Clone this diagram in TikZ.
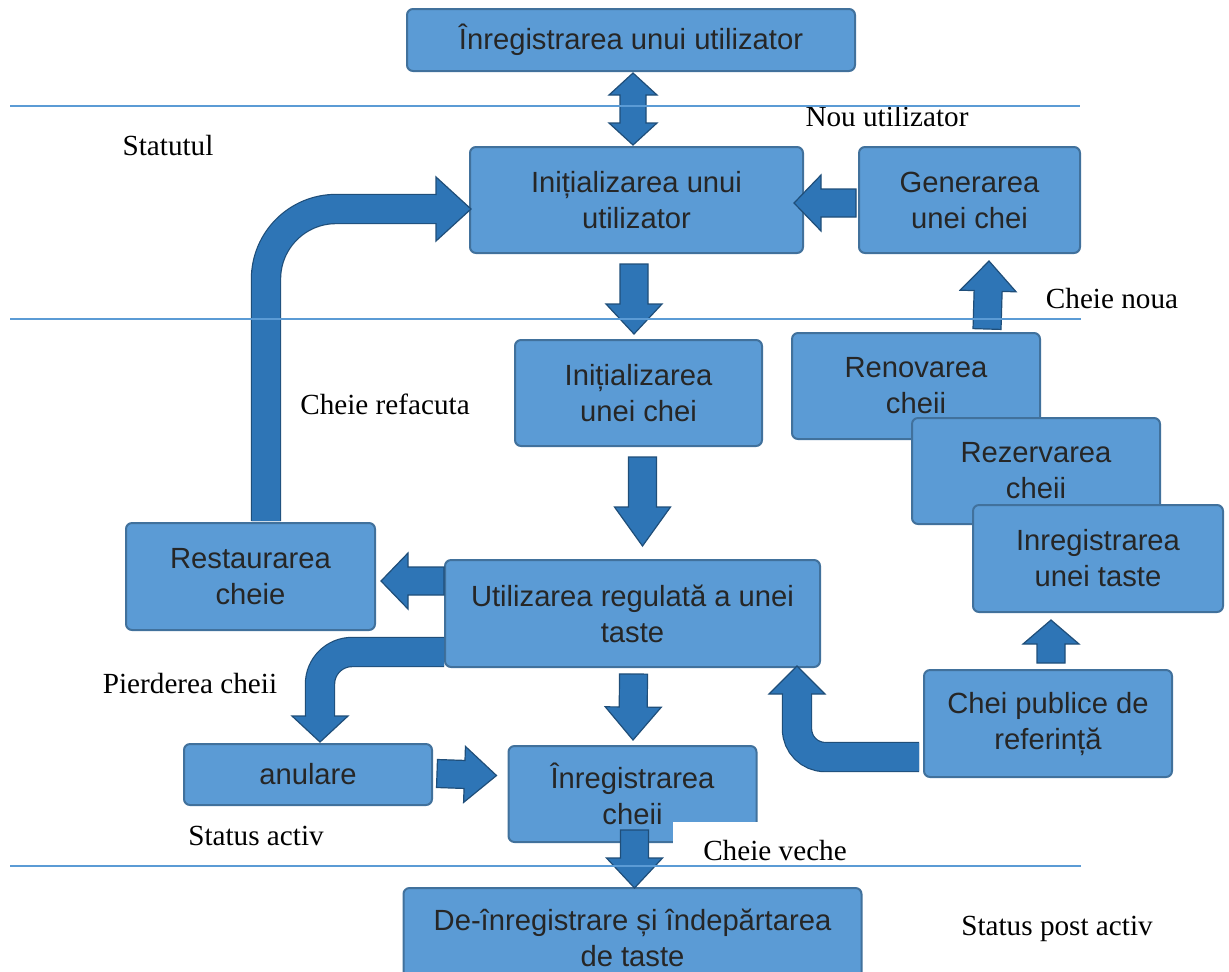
\documentclass[tikz,border=0pt]{standalone}
\usepackage{fontspec}
\setmainfont{Liberation Serif}
\setsansfont{Liberation Sans}
\usetikzlibrary{calc, positioning}

\definecolor{boxfill}{RGB}{91,155,213}
\definecolor{boxedge}{RGB}{65,113,156}
\definecolor{boxtext}{RGB}{38,38,38}
\definecolor{arrowfill}{RGB}{46,117,182}
\definecolor{arrowedge}{RGB}{31,78,121}
\definecolor{rulecolor}{RGB}{91,155,213}

\newcommand{\shaftw}{7pt}
\newcommand{\headw}{14pt}

% straight block arrow: [head length]{tail}{tip}
\newcommand{\blockarrow}[3][15pt]{%
  \coordinate (ba-tail) at (#2);
  \coordinate (ba-tip) at (#3);
  \coordinate (ba-base) at ($(ba-tip)!#1!(ba-tail)$);
  \filldraw[arrowbody] (ba-tip)
    -- ($(ba-base)!\headw!90:(ba-tip)$) -- ($(ba-base)!\shaftw!90:(ba-tip)$)
    -- ($(ba-tail)!\shaftw!90:(ba-tip)$) -- ($(ba-tail)!\shaftw!-90:(ba-tip)$)
    -- ($(ba-base)!\shaftw!-90:(ba-tip)$) -- ($(ba-base)!\headw!-90:(ba-tip)$) -- cycle;}

% block arrow with a head at both ends
\newcommand{\doubleblockarrow}[3][11pt]{%
  \coordinate (da-a) at (#2);
  \coordinate (da-b) at (#3);
  \coordinate (da-ba) at ($(da-a)!#1!(da-b)$);
  \coordinate (da-bb) at ($(da-b)!#1!(da-a)$);
  \filldraw[arrowbody] (da-a)
    -- ($(da-ba)!\headw!90:(da-a)$) -- ($(da-ba)!\shaftw!90:(da-a)$)
    -- ($(da-bb)!\shaftw!-90:(da-b)$) -- ($(da-bb)!\headw!-90:(da-b)$)
    -- (da-b)
    -- ($(da-bb)!\headw!90:(da-b)$) -- ($(da-bb)!\shaftw!90:(da-b)$)
    -- ($(da-ba)!\shaftw!-90:(da-a)$) -- ($(da-ba)!\headw!-90:(da-a)$) -- cycle;}

% head only, for the bent shafts: {base}{tip}
\newcommand{\blockhead}[2]{%
  \coordinate (bh-base) at (#1);
  \coordinate (bh-tip) at (#2);
  \filldraw[arrowbody] ($(bh-base)!\shaftw!90:(bh-tip)$) -- ($(bh-base)!\headw!90:(bh-tip)$)
    -- (bh-tip) -- ($(bh-base)!\headw!-90:(bh-tip)$) -- ($(bh-base)!\shaftw!-90:(bh-tip)$);}

\begin{document}
\begin{tikzpicture}[x=0.5pt, y=-0.5pt,
        procbox/.style={draw=boxedge, fill=boxfill, line width=1pt, rounded corners=3pt, align=center,
            text=boxtext, inner sep=2pt, font=\sffamily\fontsize{14.6pt}{18pt}\selectfont},
        note/.style={inner sep=0pt, font=\fontsize{14.6pt}{17pt}\selectfont},
        arrowbody/.style={fill=arrowfill, draw=arrowedge, line width=0.6pt, line join=miter},
        shaft/.style={draw=arrowedge, line width=0.6pt, double=arrowfill, double distance=14pt},
        statusline/.style={draw=rulecolor, line width=0.6pt}
    ]
    \useasboundingbox (0,0) rectangle (1229,971);

    % Nodes
    \node[procbox, minimum width=224pt, minimum height=31pt] (reguser) at (631,40) {Înregistrarea unui utilizator};
    \node[procbox, minimum width=166.5pt, minimum height=53pt] (inituser) at (636.5,200) {Inițializarea unui\\utilizator};
    \node[procbox, minimum width=110.5pt, minimum height=53pt, right=27pt of inituser] (genkey) {Generarea\\unei chei};
    \node[procbox, minimum width=123.5pt, minimum height=53pt, below=42.5pt of inituser, xshift=1pt] (initkey) {Inițializarea\\unei chei};
    \node[procbox, minimum width=124pt, minimum height=53pt] (renewkey) at (916,386) {Renovarea\\cheii};
    \node[procbox, minimum width=124pt, minimum height=53pt] (reservekey) at (1036,471) {Rezervarea\\cheii};
    \node[procbox, minimum width=125pt, minimum height=53.5pt] (regkey) at (1098,558.5) {Inregistrarea\\unei taste};
    \node[procbox, minimum width=124.5pt, minimum height=53.5pt] (restorekey) at (250.5,576.5) {Restaurarea\\cheie};
    \node[procbox, minimum width=187.5pt, minimum height=53.5pt] (usekey) at (632.5,613.5) {Utilizarea regulată a unei\\taste};
    \node[procbox, minimum width=124pt, minimum height=30.5pt] (revoke) at (308,774.5) {anulare};
    \node[procbox, minimum width=124pt, minimum height=48pt, below=38.5pt of usekey] (storekey) {Înregistrarea\\cheii};
    \node[procbox, minimum width=124pt, minimum height=53.5pt] (pubkeys) at (1048,723.5) {Chei publice de\\referință};
    \node[procbox, minimum width=229pt, minimum height=50pt, below=22pt of storekey] (remove) {De-înregistrare și îndepărtarea\\de taste};

    % Arrows
    {\renewcommand{\headw}{12pt}\renewcommand{\shaftw}{6.5pt}%
    \doubleblockarrow{$(reguser.south)+(2,1)$}{$(inituser.north)+(-3.5,-1)$}}
    \blockarrow[13.5pt]{$(genkey.west)+(-2,3)$}{$(inituser.east)+(-10,3)$}
    \blockarrow{$(inituser.south)+(-2.5,10)$}{$(initkey.north)+(-4.5,-5)$}
    \blockarrow[19.5pt]{$(initkey.south)+(4,10)$}{$(usekey.north)+(10,-13)$}
    \blockarrow[13.5pt]{$(usekey.west)+(0,-32.5)$}{$(restorekey.east)+(5,4.5)$}
    \blockarrow{$(renewkey.north)+(71,-3)$}{$(genkey.south)+(19.5,7)$}
    \blockarrow[12pt]{$(pubkeys.north)+(3,-6)$}{$(regkey.south)+(-47,7)$}
    \blockarrow[16.5pt]{$(usekey.south)+(1,6)$}{$(storekey.north)+(0.5,-5)$}
    \blockarrow[16pt]{$(revoke.east)+(4,-1)$}{$(storekey.west)+(-11,-18.5)$}
    \blockarrow{$(storekey.south)+(2,-13)$}{$(remove.north)+(2,1)$}

    \coordinate (restoreend) at ($(inituser.west)+(-31,9)$);
    \draw[shaft, rounded corners=35pt] ($(restorekey.north)+(15.5,-1)$) |- (restoreend);
    {\renewcommand{\headw}{16pt}%
    \blockhead{$(inituser.west)+(-33,9)$}{$(inituser.west)+(2,9)$}}

    \coordinate (lostend) at ($(revoke.north)+(12,-25)$);
    \draw[shaft, rounded corners=16pt] ($(usekey.west)+(0,38.5)$) -| (lostend);
    \blockhead{$(revoke.north)+(12,-27)$}{$(revoke.north)+(12,-1)$}

    \coordinate (pubend) at ($(usekey.south east)+(-24,24)$);
    \draw[shaft, rounded corners=14pt] ($(pubkeys.west)+(-4,33.5)$) -| (pubend);
    \blockhead{$(usekey.south east)+(-24,26)$}{$(usekey.south east)+(-24,-2)$}

    % Labels
    \node[note] (newuser) at (887,117) {Nou utilizator};
    \node[note] (status) at (168,146) {Statutul};
    \node[note] (newkey) at (1112,298) {Cheie noua};
    \node[note] (rebuilt) at (385,404) {Cheie refacuta};
    \node[note] (lostkey) at (190,683) {Pierderea cheii};
    \node[note] (active) at (256,836) {Status activ};
    \node[note, fill=white, minimum width=102pt, minimum height=28pt] (oldkey) at (775,850) {Cheie veche};
    \node[note] (postactive) at (1057,929) {Status post activ};

    % Status lines
    \draw[statusline] (10,106) -- (1080,106);
    \draw[statusline] (10,319) -- (1081,319);
    \draw[statusline] (10,866) -- (1081,866);

\end{tikzpicture}
\end{document}
